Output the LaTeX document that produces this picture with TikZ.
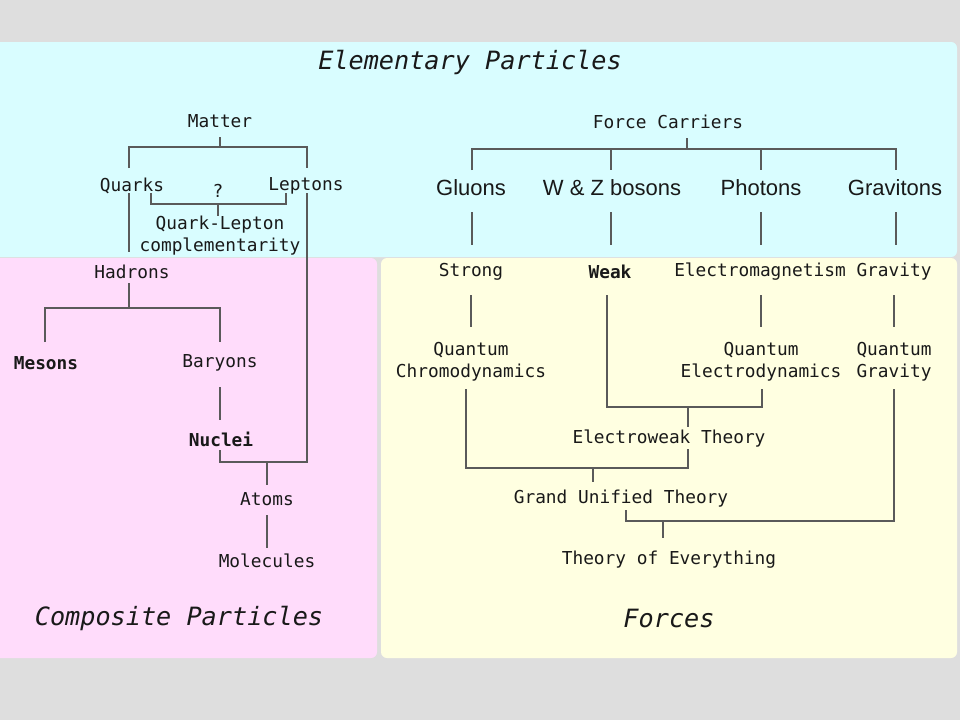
\documentclass[tikz,border=0pt]{standalone}
\usepackage{fontspec}
\usepackage{tikz}
\newfontfamily\gothic{DejaVu Sans Mono}
\setsansfont{Liberation Sans}
\definecolor{bggray}{HTML}{DEDEDE}
\definecolor{elemcyan}{HTML}{D9FDFF}
\definecolor{comppink}{HTML}{FFDCFB}
\definecolor{forceyellow}{HTML}{FFFFE1}
\definecolor{linkgray}{HTML}{5A5A5A}

\begin{document}
\begin{tikzpicture}[
    x=1pt, y=-1pt,
    term/.style={
        text=black!90,
        font=\gothic\fontsize{17.8}{22}\selectfont,
        align=center,
        inner sep=0pt
    },
    carrier/.style={
        text=black!90,
        font=\sffamily\fontsize{22}{26}\selectfont,
        inner sep=0pt
    },
    heading/.style={
        text=black!90,
        font=\gothic\itshape\fontsize{25.2}{30}\selectfont,
        inner sep=0pt
    },
    link/.style={
        draw=linkgray,
        line width=1.3pt
    },
    panel/.style={
        rounded corners=6pt
    }
    ]
    \useasboundingbox (0,0) rectangle (960,720);
    \fill[bggray] (0,0) rectangle (960,720);
    \fill[panel, elemcyan] (-10,42) rectangle (957,257);
    \fill[panel, comppink] (-10,258) rectangle (377,658);
    \fill[panel, forceyellow] (381,258) rectangle (957,658);

    \node[heading] (elementary) at (470,62) {Elementary Particles};
    \node[heading] (composite) at (179,618) {Composite Particles};
    \node[heading] (forces) at (669,618) {Forces};

    % matter side
    \node[term] (matter) at (220,121) {Matter};
    \node[term] (quarks) at (132,186) {Quarks};
    \node[term] (leptons) at (306,186) {Leptons};
    \node[term] (qmark) at (218,191) {?};
    \node[term] (qlc) at (220,236) {Quark-Lepton\\complementarity};
    \node[term] (hadrons) at (132,272) {Hadrons};
    \node[term, font=\gothic\bfseries\fontsize{17.8}{22}\selectfont] (mesons) at (46,363) {Mesons};
    \node[term] (baryons) at (220,363) {Baryons};
    \node[term, font=\gothic\bfseries\fontsize{17.8}{22}\selectfont] (nuclei) at (221,439) {Nuclei};
    \node[term] (atoms) at (267,499) {Atoms};
    \node[term] (molecules) at (267,561) {Molecules};

    \coordinate (matterfork) at (220,147);
    \coordinate (bracket) at (218,204);
    \coordinate (hadronfork) at (129,308);
    \coordinate (atomfork) at (267,462);

    \draw[link] (matter) ++(0,16) -- (matterfork);
    \draw[link] (129,168) |- (matterfork) -| (307,168);
    \draw[link] (129,193) -- (129,252);
    \draw[link] (151,193) |- (bracket) -| (286,193);
    \draw[link] (bracket) -- (bracket |- qlc.north);
    \draw[link] (307,193) |- (atomfork) -| (220,450);
    \draw[link] (129,283) -- (hadronfork);
    \draw[link] (45,342) |- (hadronfork) -| (220,342);
    \draw[link] (220,387) -- (220,420);
    \draw[link] (atomfork) -- (267,485);
    \draw[link] (267,515) -- (267,548);

    % force side
    \node[term] (fc) at (668,122) {Force Carriers};
    \node[carrier] (gluons) at (471,188) {Gluons};
    \node[carrier] (wz) at (612,188) {W \& Z bosons};
    \node[carrier] (photons) at (761,188) {Photons};
    \node[carrier] (gravitons) at (895,188) {Gravitons};

    \node[term] (strong) at (471,272) {Strong};
    \node[term, font=\gothic\bfseries\fontsize{17.8}{22}\selectfont] (weak) at (610,272) {Weak};
    \node[term] (em) at (760,272) {Electromagnetism};
    \node[term] (gravity) at (894,272) {Gravity};

    \node[term] (qcd) at (471,362) {Quantum\\Chromodynamics};
    \node[term] (qed) at (761,362) {Quantum\\Electrodynamics};
    \node[term] (qg) at (894,362) {Quantum\\Gravity};
    \node[term] (ew) at (669,439) {Electroweak Theory};
    \node[term] (gut) at (621,499) {Grand Unified Theory};
    \node[term] (toe) at (669,560) {Theory of Everything};

    \coordinate (fcfork) at (687,149);
    \coordinate (ewfork) at (688,407);
    \coordinate (gutfork) at (593,468);
    \coordinate (toefork) at (663,521);

    \draw[link] (687,138) -- (fcfork);
    \draw[link] (472,170) |- (fcfork) -| (896,170);
    \draw[link] (611,149) -- (611,170);
    \draw[link] (761,149) -- (761,170);
    \foreach \x in {472,611,761,896}
        \draw[link] (\x,212) -- (\x,245);
    \foreach \x in {471,761,894}
        \draw[link] (\x,295) -- (\x,327);
    \draw[link] (607,295) |- (ewfork) -| (762,389);
    \draw[link] (ewfork) -- (688,427);
    \draw[link] (688,449) |- (gutfork) -| (466,389);
    \draw[link] (gutfork) -- (593,482);
    \draw[link] (626,510) |- (toefork) -| (894,389);
    \draw[link] (toefork) -- (663,538);
\end{tikzpicture}
\end{document}
